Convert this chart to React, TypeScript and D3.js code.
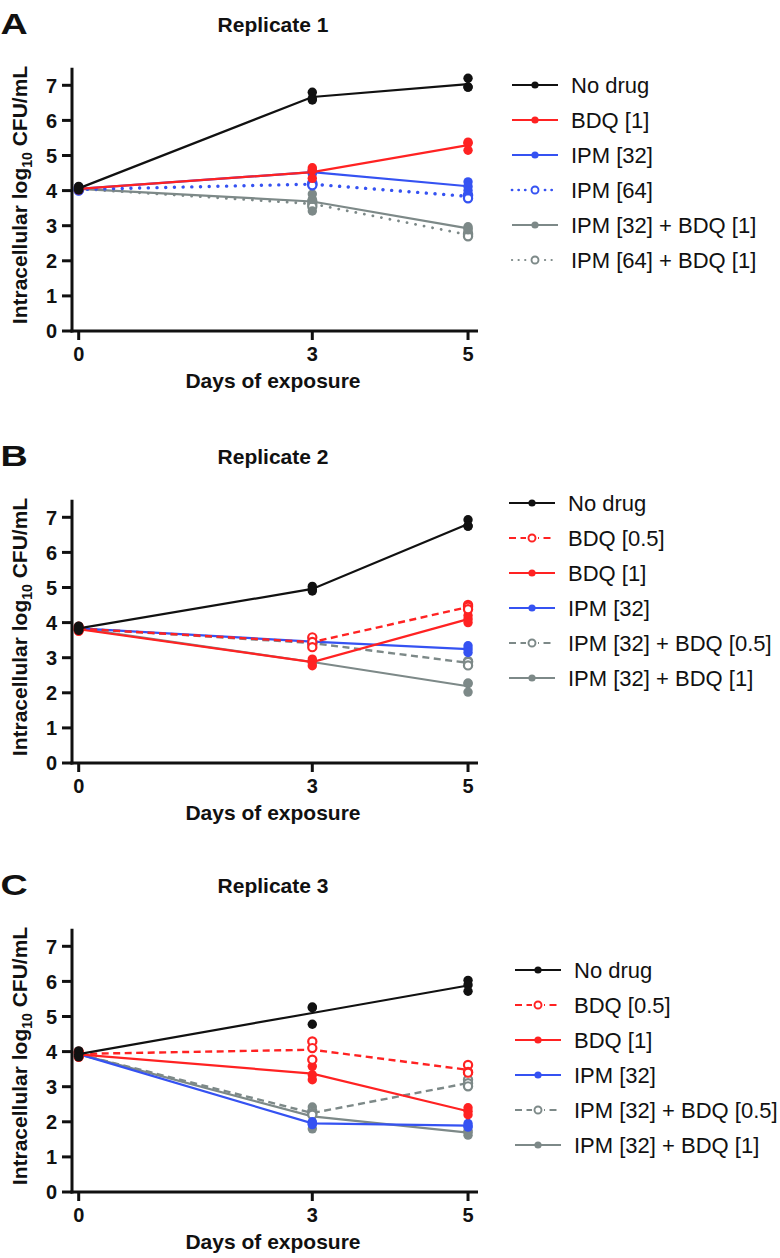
import React from "react";
import * as d3 from "d3";

const DAYS = [0, 3, 5];
const Y_TICKS = [0, 1, 2, 3, 4, 5, 6, 7];
const X_TICKS = [0, 3, 5];

const BLACK = "#111111";
const RED = "#ff2222";
const BLUE = "#3552f2";
const GRAY = "#7d8988";

// Replicate 1 (panel A): values at day 0, 3, 5 (individual wells)
const A_noDrug = [[4.12, 4.05, 4.02], [6.8, 6.62, 6.58], [7.2, 6.95, 6.95]];
const A_bdq1 = [[4.08, 4.05, 4.02], [4.65, 4.58, 4.35], [5.38, 5.35, 5.15]];
const A_ipm32 = [[4.1, 4.05, 4.0], [4.58, 4.52, 4.48], [4.25, 4.12, 4.0]];
const A_ipm64 = [[4.08, 4.02, 4.0], [4.22, 4.18, 4.15], [3.88, 3.85, 3.78]];
const A_ipm32bdq1 = [[4.08, 4.05, 4.02], [3.9, 3.75, 3.42], [2.97, 2.92, 2.88]];
const A_ipm64bdq1 = [[4.08, 4.05, 4.02], [3.7, 3.62, 3.55], [2.78, 2.74, 2.7]];

// Replicate 2 (panel B)
const B_noDrug = [[3.9, 3.82, 3.78], [5.03, 4.95, 4.9], [6.93, 6.75, 6.75]];
const B_bdq05 = [[3.88, 3.82, 3.78], [3.58, 3.45, 3.3], [4.5, 4.45, 4.38]];
const B_bdq1 = [[3.88, 3.8, 3.75], [2.96, 2.9, 2.77], [4.2, 4.1, 4.0]];
const B_ipm32 = [[3.88, 3.82, 3.8], [3.55, 3.45, 3.38], [3.34, 3.25, 3.15]];
const B_ipm32bdq05 = [[3.88, 3.82, 3.8], [3.45, 3.42, 3.38], [2.9, 2.88, 2.78]];
const B_ipm32bdq1 = [[3.88, 3.82, 3.8], [2.9, 2.88, 2.85], [2.28, 2.26, 2.02]];

// Replicate 3 (panel C)
const C_noDrug = [[4.02, 3.92, 3.85], [5.27, 5.25, 4.78], [6.03, 5.9, 5.72]];
const C_bdq05 = [[4.0, 3.95, 3.85], [4.29, 4.1, 3.77], [3.62, 3.42, 3.4]];
const C_bdq1 = [[4.0, 3.92, 3.85], [3.58, 3.34, 3.2], [2.4, 2.3, 2.2]];
const C_ipm32 = [[3.98, 3.92, 3.88], [2.0, 1.95, 1.92], [1.95, 1.88, 1.85]];
const C_ipm32bdq05 = [[3.98, 3.92, 3.88], [2.3, 2.25, 2.2], [3.2, 3.1, 3.01]];
const C_ipm32bdq1 = [[3.98, 3.92, 3.88], [2.42, 2.25, 1.8], [1.75, 1.7, 1.62]];

type Style = "solid" | "dotted" | "dashed";
interface Series {
  name: string;
  color: string;
  style: Style;
  open: boolean;
  values: number[][];
}

const seriesA: Series[] = [
  { name: "No drug", color: BLACK, style: "solid", open: false, values: A_noDrug },
  { name: "BDQ [1]", color: RED, style: "solid", open: false, values: A_bdq1 },
  { name: "IPM [32]", color: BLUE, style: "solid", open: false, values: A_ipm32 },
  { name: "IPM [64]", color: BLUE, style: "dotted", open: true, values: A_ipm64 },
  { name: "IPM [32] + BDQ [1]", color: GRAY, style: "solid", open: false, values: A_ipm32bdq1 },
  { name: "IPM [64] + BDQ [1]", color: GRAY, style: "dotted", open: true, values: A_ipm64bdq1 },
];
const seriesB: Series[] = [
  { name: "No drug", color: BLACK, style: "solid", open: false, values: B_noDrug },
  { name: "BDQ [0.5]", color: RED, style: "dashed", open: true, values: B_bdq05 },
  { name: "BDQ [1]", color: RED, style: "solid", open: false, values: B_bdq1 },
  { name: "IPM [32]", color: BLUE, style: "solid", open: false, values: B_ipm32 },
  { name: "IPM [32] + BDQ [0.5]", color: GRAY, style: "dashed", open: true, values: B_ipm32bdq05 },
  { name: "IPM [32] + BDQ [1]", color: GRAY, style: "solid", open: false, values: B_ipm32bdq1 },
];
const seriesC: Series[] = [
  { name: "No drug", color: BLACK, style: "solid", open: false, values: C_noDrug },
  { name: "BDQ [0.5]", color: RED, style: "dashed", open: true, values: C_bdq05 },
  { name: "BDQ [1]", color: RED, style: "solid", open: false, values: C_bdq1 },
  { name: "IPM [32]", color: BLUE, style: "solid", open: false, values: C_ipm32 },
  { name: "IPM [32] + BDQ [0.5]", color: GRAY, style: "dashed", open: true, values: C_ipm32bdq05 },
  { name: "IPM [32] + BDQ [1]", color: GRAY, style: "solid", open: false, values: C_ipm32bdq1 },
];

interface PanelCfg {
  letter: string;
  title: string;
  top: number; // pixel y of value 0
  legendY: number;
  legendX: number;
  series: Series[];
}

const PANELS: PanelCfg[] = [
  { letter: "A", title: "Replicate 1", top: 331, legendY: 85, legendX: 512, series: seriesA },
  { letter: "B", title: "Replicate 2", top: 763, legendY: 503, legendX: 509, series: seriesB },
  { letter: "C", title: "Replicate 3", top: 1192, legendY: 970, legendX: 515, series: seriesC },
];

const FONT = "'Liberation Sans', Arial, Helvetica, sans-serif";

function dashFor(s: Style, color: string): { dash?: string; width: number; cap: "round" | "butt" } {
  if (s === "dotted") return { dash: "0.1 8.6", width: color === GRAY ? 2.8 : 3.4, cap: "round" };
  if (s === "dashed") return { dash: "7 4.5", width: 2.4, cap: "butt" };
  return { width: 2.2, cap: "butt" };
}

function Panel({ cfg }: { cfg: PanelCfg }) {
  const y0 = cfg.top;
  const x = d3.scaleLinear().domain([-0.086, 5.128]).range([72, 478]);
  const y = d3.scaleLinear().domain([0, 7.5]).range([y0, y0 - 7.5 * 35.1]);
  const line = d3
    .line<[number, number]>()
    .x((d) => x(d[0]))
    .y((d) => y(d[1]));
  const titleCy = y0 - 307;
  const drawOrder = [...cfg.series].reverse();

  return (
    <g>
      <text
        transform={`translate(0.5,${titleCy + 10}) scale(1.3,1)`}
        fontFamily={FONT}
        fontWeight={700}
        fontSize={29}
        fill="#111"
      >
        {cfg.letter}
      </text>
      <text
        x={273}
        y={titleCy + 7.5}
        textAnchor="middle"
        fontFamily={FONT}
        fontWeight={700}
        fontSize={21}
        fill="#111"
      >
        {cfg.title}
      </text>

      {/* series */}
      {drawOrder.map((s, i) => {
        const means: [number, number][] = DAYS.map((d, j) => [d, d3.mean(s.values[j]) as number]);
        const ds = dashFor(s.style, s.color);
        return (
          <g key={i}>
            <path
              d={line(means) || ""}
              fill="none"
              stroke={s.color}
              strokeWidth={ds.width}
              strokeDasharray={ds.dash}
              strokeLinecap={ds.cap}
            />
            {DAYS.map((d, j) =>
              s.values[j].map((v, k) => (
                <circle
                  key={`${j}-${k}`}
                  cx={x(d)}
                  cy={y(v)}
                  r={s.open ? 4.1 : 4.7}
                  fill={s.open ? "white" : s.color}
                  stroke={s.color}
                  strokeWidth={s.open ? 2.2 : 0}
                />
              ))
            )}
          </g>
        );
      })}

      {/* axes */}
      <line x1={72} x2={72} y1={y(7.5)} y2={y0 + 1.5} stroke="#111" strokeWidth={3} />
      {Y_TICKS.map((t) => (
        <g key={t}>
          <line x1={62} x2={72} y1={y(t)} y2={y(t)} stroke="#111" strokeWidth={3} />
          <text
            x={57}
            y={y(t)}
            dy="0.36em"
            textAnchor="end"
            fontFamily={FONT}
            fontWeight={700}
            fontSize={20}
            fill="#111"
          >
            {t}
          </text>
        </g>
      ))}
      <line x1={70.5} x2={478} y1={y0} y2={y0} stroke="#111" strokeWidth={3} />
      {X_TICKS.map((t) => (
        <g key={t}>
          <line x1={x(t)} x2={x(t)} y1={y0} y2={y0 + 9} stroke="#111" strokeWidth={3} />
          <text
            x={x(t)}
            y={y0 + 30}
            textAnchor="middle"
            fontFamily={FONT}
            fontWeight={700}
            fontSize={20}
            fill="#111"
          >
            {t}
          </text>
        </g>
      ))}
      <text
        x={273}
        y={y0 + 57}
        textAnchor="middle"
        fontFamily={FONT}
        fontWeight={700}
        fontSize={21}
        fill="#111"
      >
        Days of exposure
      </text>
      <text
        transform={`translate(27,${y0 - 136}) rotate(-90)`}
        textAnchor="middle"
        fontFamily={FONT}
        fontWeight={700}
        fontSize={21}
        fill="#111"
      >
        Intracellular log
        <tspan fontSize={14} dy={5}>
          10
        </tspan>
        <tspan dy={-5}> CFU/mL</tspan>
      </text>

      {/* legend */}
      {cfg.series.map((s, i) => {
        const ly = cfg.legendY + i * 35;
        const lx = cfg.legendX;
        const ds = dashFor(s.style, s.color);
        return (
          <g key={`lg${i}`}>
            <line
              x1={lx}
              x2={lx + 46}
              y1={ly}
              y2={ly}
              stroke={s.color}
              strokeWidth={s.style === "dotted" ? ds.width * 0.8 : 2.2}
              strokeDasharray={s.style === "dotted" ? "0.1 6.5" : ds.dash}
              strokeLinecap={ds.cap}
            />
            {s.open && <rect x={lx + 17} y={ly - 4} width={12} height={8} fill="white" />}
            <circle
              cx={lx + 23}
              cy={ly}
              r={s.open ? 3.5 : 3.6}
              fill={s.open ? "white" : s.color}
              stroke={s.color}
              strokeWidth={s.open ? 1.9 : 0}
            />
            <text
              x={lx + 59}
              y={ly}
              dy="0.36em"
              fontFamily={FONT}
              fontSize={22}
              fill="#111"
            >
              {s.name}
            </text>
          </g>
        );
      })}
    </g>
  );
}

export default function App() {
  return (
    <svg
      width={780}
      height={1258}
      viewBox="0 0 780 1258"
      style={{ position: "absolute", left: 0, top: 0, background: "white" }}
    >
      <rect x={0} y={0} width={780} height={1258} fill="white" />
      {PANELS.map((p) => (
        <Panel key={p.letter} cfg={p} />
      ))}
    </svg>
  );
}
